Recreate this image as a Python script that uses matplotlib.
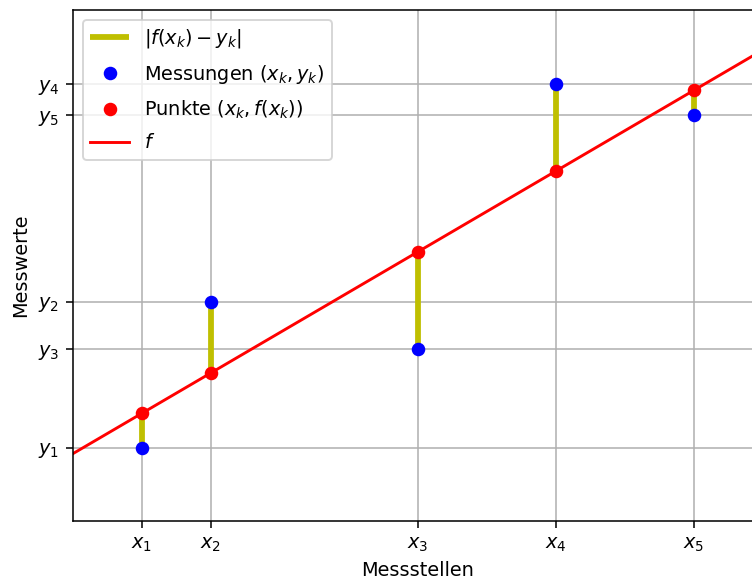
import matplotlib
matplotlib.use('Agg')
import matplotlib.pyplot as plt
import numpy as np

# Messstellen und Messwerte
x = np.array([1.0, 1.5, 3.0, 4.0, 5.0])
y = np.array([1.0, 3.0, 2.35, 5.98, 5.56])
x_labels = ['$x_1$', '$x_2$', '$x_3$', '$x_4$', '$x_5$']
y_labels = ['$y_1$', '$y_2$', '$y_3$', '$y_4$', '$y_5$']

# least squares line
m, b = np.polyfit(x, y, 1)
fx = m * x + b

DPI = 139
fig = plt.figure(figsize=(752 / DPI, 585 / DPI), dpi=DPI)
ax = fig.add_axes([73/752, 64/585, 690/752, 511/585])

ax.vlines(x, y, fx, color='y', linewidth=3, label='$|f(x_k)-y_k|$', zorder=2)
ax.plot(x, y, 'bo', label='Messungen $(x_k,y_k)$', zorder=3)
ax.plot(x, fx, 'ro', label='Punkte $(x_k,f(x_k))$', zorder=3)
xx = np.array([0.5, 5.5])
ax.plot(xx, m * xx + b, 'r-', label='$f$', zorder=2)

ax.set_xlim(0.5, 5.5)
ax.set_ylim(0, 7)
ax.set_xticks(x)
ax.set_xticklabels(x_labels)
ax.set_yticks(y)
ax.set_yticklabels(y_labels)
ax.grid(True)
ax.set_xlabel('Messstellen')
ax.set_ylabel('Messwerte')
ax.legend(loc='upper left', labelspacing=0.65)

fig.savefig('out.png', dpi=DPI)
